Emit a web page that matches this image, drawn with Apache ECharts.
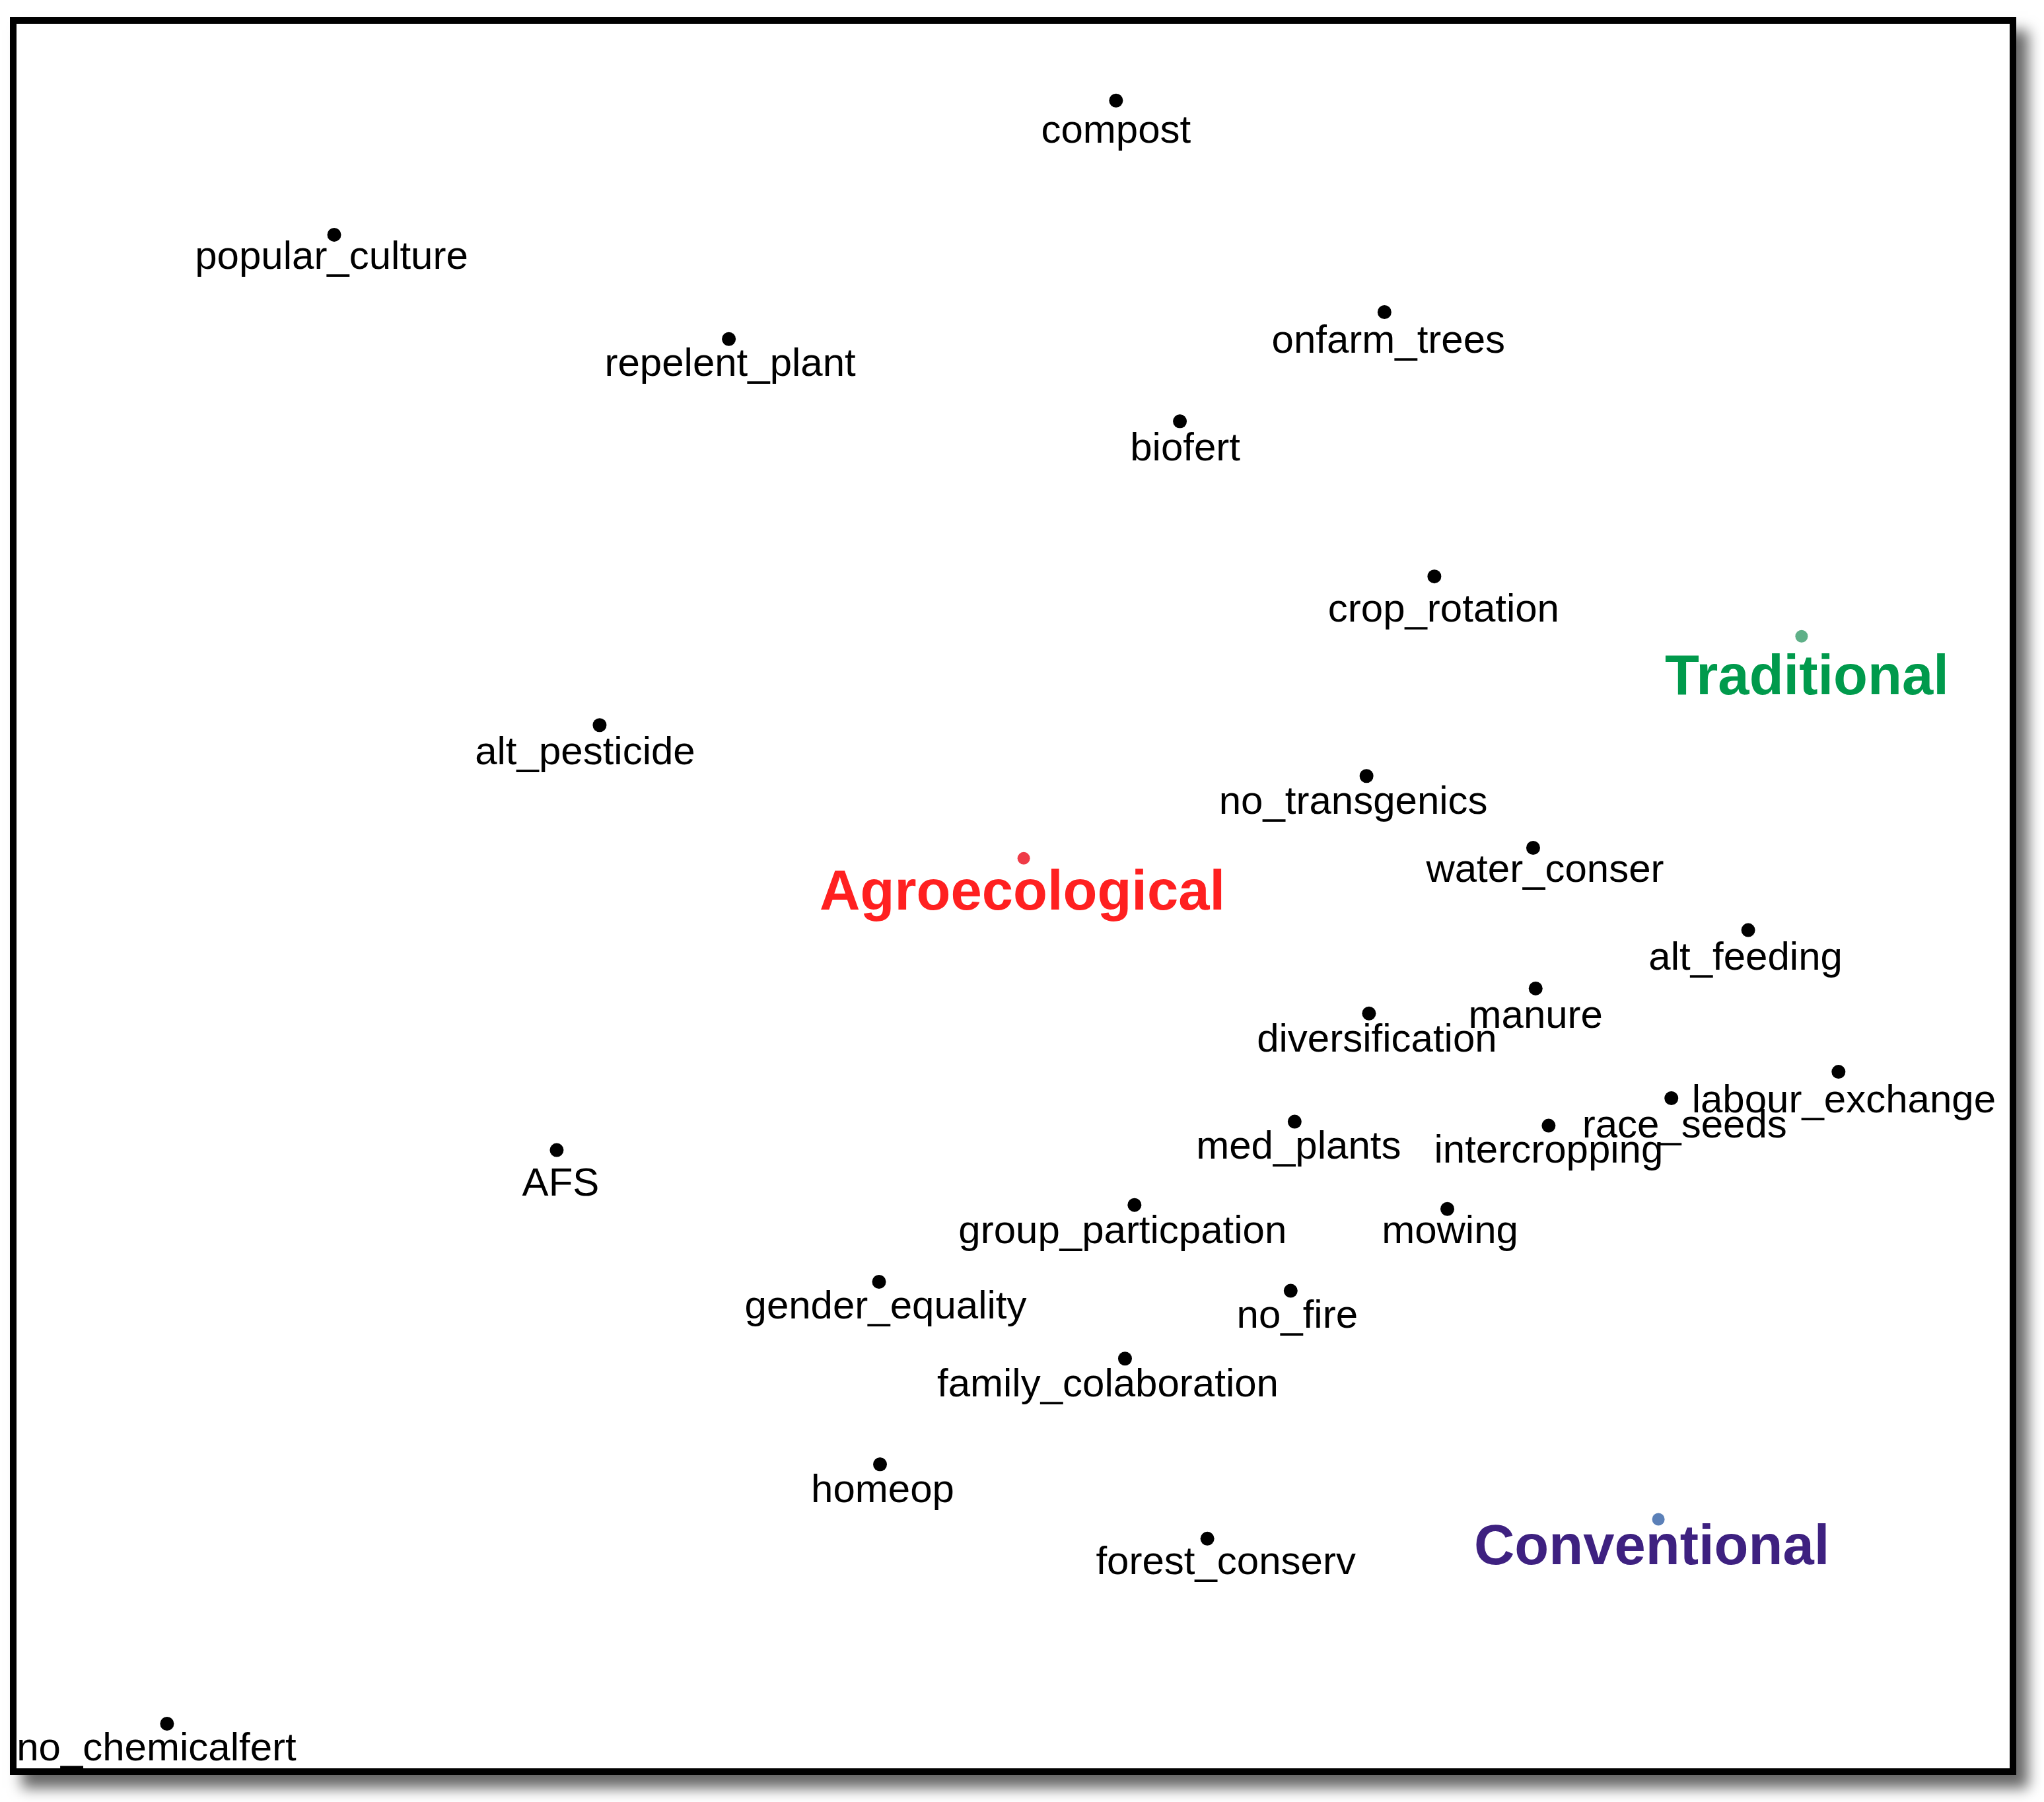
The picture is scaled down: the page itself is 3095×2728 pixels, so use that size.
<!DOCTYPE html>
<html>
<head>
<meta charset="utf-8">
<script src="https://cdn.jsdelivr.net/npm/echarts@6/dist/echarts.min.js"></script>
<style>
html,body{margin:0;padding:0;background:#fff;}
#chart{width:3095px;height:2728px;}
</style>
</head>
<body>
<div id="chart"></div>
<script>
// Practice variables (ordination coordinates)
const practices = ["compost","popular_culture","repelent_plant","onfarm_trees","biofert","crop_rotation",
  "alt_pesticide","no_transgenics","water_conser","alt_feeding","manure","diversification",
  "labour_exchange","race_seeds","intercropping","med_plants","AFS","group_particpation","mowing",
  "gender_equality","no_fire","family_colaboration","homeop","forest_conserv","no_chemicalfert"];
const practiceX = [0.205,-1.362,-0.571,0.743,0.333,0.843,
  -0.830,0.707,1.041,1.472,1.046,0.712,
  1.653,1.318,1.072,0.563,-0.916,0.242,0.869,
  -0.270,0.555,0.223,-0.268,0.388,-1.697];
const practiceY = [1.346,1.077,0.868,0.922,0.703,0.392,
  0.094,-0.008,-0.152,-0.317,-0.434,-0.484,
  -0.601,-0.654,-0.709,-0.701,-0.758,-0.868,-0.876,
  -1.022,-1.040,-1.176,-1.388,-1.537,-1.908];

// Farming-system groups
const groups = ["Agroecological","Traditional","Conventional"];
const groupX = [0.020,1.579,1.292];
const groupY = [-0.173,0.272,-1.498];

// label nudges (pixels) relative to the point
const practiceLabelShift = [[0,47],[-4,35],[2,39],[6,45],[8,43],[14,52],
  [-22,43],[-20,41],[18,35],[-4,43],[0,43],[12,41],
  [8,45],[20,43],[0,39],[6,39],[6,52],[-18,41],[4,35],
  [10,39],[10,39],[-26,41],[4,41],[28,37],[-16,39]];
const groupLabelShift = [[-2,54],[8,64],[-10,45]];

const groupTextColors = ["#ff2020","#009a4c","#3e2180"];
const groupDotColors = ["#ef3b47","#5fb088","#5b80b8"];

const chart = echarts.init(document.getElementById('chart'), null, {renderer:'canvas'});

const pData = practices.map((n,i)=>({
  value:[practiceX[i],practiceY[i]], name:n,
  label:{offset:practiceLabelShift[i]}
}));
const gData = groups.map((n,i)=>({
  value:[groupX[i],groupY[i]], name:n,
  itemStyle:{color:groupDotColors[i],opacity:1},
  label:{offset:groupLabelShift[i], color:groupTextColors[i]}
}));

chart.setOption({
  backgroundColor:'#ffffff',
  animation:false,
  graphic:[{
    type:'rect', z:-10, zlevel:0, silent:true,
    shape:{x:15,y:26,width:3038,height:2661},
    style:{fill:'#ffffff',stroke:null,
      shadowBlur:20,shadowOffsetX:18,shadowOffsetY:20,shadowColor:'rgba(0,0,0,0.6)'}
  },{
    type:'rect', z:-9, zlevel:0, silent:true,
    shape:{x:20,y:31,width:3028,height:2651},
    style:{fill:null,stroke:'#000000',lineWidth:10}
  }],
  grid:{left:24,top:36,width:3022,height:2643,show:false},
  xAxis:{type:'value',min:-2,max:2,show:false},
  yAxis:{type:'value',min:-2,max:1.5,show:false},
  series:[
    {
      type:'scatter', symbolSize:21, clip:false,
      itemStyle:{color:'#000000',opacity:1},
      label:{show:true,position:'inside',formatter:'{b}',
        fontFamily:'"Liberation Sans", Arial, sans-serif',fontSize:60,color:'#000000'},
      emphasis:{disabled:true},
      data:pData, z:3
    },
    {
      type:'scatter', symbolSize:19, clip:false,
      itemStyle:{opacity:1},
      label:{show:true,position:'inside',formatter:'{b}',
        fontFamily:'"Liberation Sans", Arial, sans-serif',fontSize:85,fontWeight:'bold'},
      emphasis:{disabled:true},
      data:gData, z:4
    }
  ]
});
</script>
</body>
</html>
